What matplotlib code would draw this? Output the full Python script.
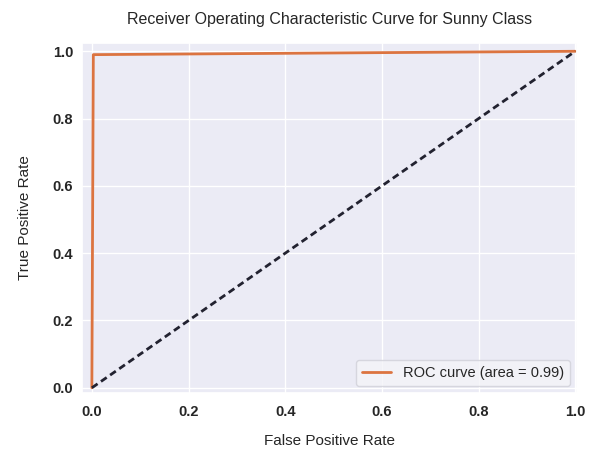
import matplotlib
matplotlib.use("Agg")
import matplotlib.pyplot as plt
import seaborn as sns

# ROC points for the Sunny class
fpr = [0.0, 0.0, 0.003, 1.0]
tpr = [0.0, 0.0, 0.99, 1.0]
roc_auc = 0.99

chance_x = [0.0, 1.0]
chance_y = [0.0, 1.0]

sns.set_theme(style="darkgrid", rc={"axes.facecolor": "#ebebf5"})
plt.rcParams["font.family"] = ["Liberation Sans", "DejaVu Sans"]

fig = plt.figure(figsize=(6, 4.5), dpi=100)
ax = fig.add_axes([0.137, 0.127, 0.825, 0.777])

ax.plot(fpr, tpr, color="#dc7440", lw=2, label=f"ROC curve (area = {roc_auc:.2f})")
ax.plot(chance_x, chance_y, color="#222230", lw=2, linestyle=(0, (2.5, 1.5)))

ax.set_xlim(-0.02, 1.004)
ax.set_ylim(-0.015, 1.024)
ax.set_xticks([0.0, 0.2, 0.4, 0.6, 0.8, 1.0])
ax.set_yticks([0.0, 0.2, 0.4, 0.6, 0.8, 1.0])
ax.tick_params(labelsize=10.5, colors="#262626")
ax.tick_params(axis="x", pad=2.4)
ax.tick_params(axis="y", pad=0.5)
for lab in ax.get_xticklabels() + ax.get_yticklabels():
    lab.set_fontweight("semibold")

ax.set_xlabel("False Positive Rate", fontsize=11, labelpad=11, color="#262626")
ax.set_ylabel("True Positive Rate", fontsize=11, labelpad=15, color="#262626")
ax.set_title("Receiver Operating Characteristic Curve for Sunny Class",
             fontsize=11.5, pad=14, color="#262626")
ax.legend(loc="lower right", fontsize=10.5, frameon=True, facecolor="#f4f4f8",
          edgecolor="#d0d0d8")

fig.savefig("out.png", dpi=100, facecolor="white")
